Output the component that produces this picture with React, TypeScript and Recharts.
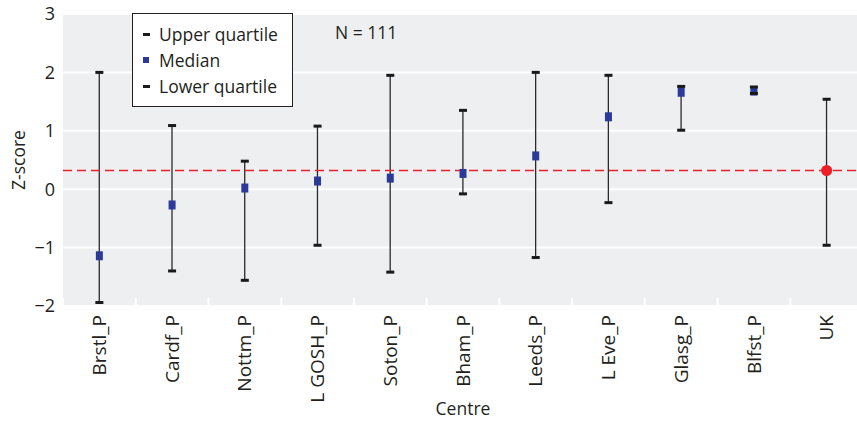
import {
  ComposedChart,
  Bar,
  Scatter,
  XAxis,
  YAxis,
  CartesianGrid,
  ReferenceLine,
  Label,
} from "recharts";

const centres = [
  "Brstl_P",
  "Cardf_P",
  "Nottm_P",
  "L GOSH_P",
  "Soton_P",
  "Bham_P",
  "Leeds_P",
  "L Eve_P",
  "Glasg_P",
  "Blfst_P",
  "UK",
];
const upperQ = [2.0, 1.09, 0.48, 1.08, 1.95, 1.35, 2.0, 1.95, 1.76, 1.75, 1.54];
const medians = [-1.14, -0.27, 0.02, 0.14, 0.19, 0.27, 0.57, 1.24, 1.66, 1.68, 0.32];
const lowerQ = [-1.94, -1.4, -1.56, -0.96, -1.42, -0.08, -1.17, -0.23, 1.01, 1.64, -0.96];
const ukMedian = 0.32;
const yTicks = [-2, -1, 0, 1, 2, 3];

const data = centres.map((name, i) => ({
  name,
  upper: upperQ[i],
  median: medians[i],
  lower: lowerQ[i],
}));

const FONT = "'Open Sans', sans-serif";
const TEXT = "#231f20";
const BLUE = "#2b3a98";
const RED = "#ee1f26";
const PANEL = "#eeeff1";

const CHART_W = 863;
const CHART_H = 421;
const Y_AXIS_W = 63;
const BAND = (CHART_W - Y_AXIS_W) / centres.length;

// whisker: thin vertical line between the quartiles
const Whisker = (props: any) => {
  const { x, y, width, height } = props;
  const cx = x + width / 2;
  return <line x1={cx} x2={cx} y1={y} y2={y + height} stroke="#2a2a2a" strokeWidth={1.3} />;
};

const Cap = (props: any) => {
  const { cx, cy } = props;
  return <rect x={cx - 4} y={cy - 1.5} width={8} height={3} fill="#1a1a1a" />;
};

const MedianMark = (props: any) => {
  const { cx, cy, payload } = props;
  if (payload.name === "UK") return <circle cx={cx} cy={cy} r={5.5} fill={RED} />;
  return <rect x={cx - 3.5} y={cy - 4.5} width={7} height={9} fill={BLUE} />;
};

const XTick = (props: any) => {
  const { x, y, payload } = props;
  return (
    <g transform={`translate(${x},${y})`}>
      <line x1={-BAND / 2} x2={-BAND / 2} y1={-8} y2={0} stroke="#fff" strokeWidth={2} />
      <text
        transform="rotate(-90)"
        x={-9}
        dy="0.35em"
        textAnchor="end"
        fill={TEXT}
        fontSize={19}
        fontFamily={FONT}
      >
        {payload.value}
      </text>
    </g>
  );
};

const fmtY = (v: number) => String(v).replace("-", "\u2212");

const legendRow = (marker: React.ReactNode, label: string, top: number) => (
  <div style={{ position: "absolute", left: 9, top, height: 22, display: "flex", alignItems: "center" }}>
    <div style={{ width: 17, display: "flex", alignItems: "center" }}>{marker}</div>
    <span>{label}</span>
  </div>
);

export default function App() {
  return (
    <div
      style={{
        position: "absolute",
        left: 0,
        top: 0,
        width: 857,
        height: CHART_H,
        overflow: "hidden",
        background: "#fff",
        fontFamily: FONT,
        color: TEXT,
      }}
    >
      <ComposedChart
        width={CHART_W}
        height={CHART_H}
        data={data}
        margin={{ top: 14, right: 0, bottom: 0, left: 0 }}
      >
        <CartesianGrid
          vertical={false}
          fill={PANEL}
          fillOpacity={1}
          stroke="#fff"
          strokeWidth={2}
        />
        <XAxis
          dataKey="name"
          type="category"
          interval={0}
          height={115}
          tickLine={false}
          axisLine={false}
          tickSize={0}
          tickMargin={0}
          tick={<XTick />}
        >
          <Label
            content={({ viewBox }: any) => (
              <text
                x={viewBox.x + viewBox.width / 2}
                y={415}
                textAnchor="middle"
                fill={TEXT}
                fontSize={17.5}
                fontFamily={FONT}
              >
                Centre
              </text>
            )}
          />
        </XAxis>
        <YAxis
          type="number"
          domain={[-2, 3]}
          ticks={yTicks}
          width={Y_AXIS_W}
          tickLine={false}
          axisLine={false}
          tickSize={0}
          tickMargin={8}
          tickFormatter={fmtY}
          tick={{ fill: TEXT, fontSize: 18, fontFamily: FONT }}
        >
          <Label
            content={({ viewBox }: any) => {
              const cy = viewBox.y + viewBox.height / 2;
              return (
                <text
                  x={19}
                  y={cy}
                  transform={`rotate(-90, 19, ${cy})`}
                  textAnchor="middle"
                  dy="0.35em"
                  fill={TEXT}
                  fontSize={17.5}
                  fontFamily={FONT}
                >
                  Z-score
                </text>
              );
            }}
          />
        </YAxis>
        <ReferenceLine y={ukMedian} stroke={RED} strokeWidth={1.5} strokeDasharray="9 5" />
        <Bar
          dataKey={(d: any) => [d.lower, d.upper]}
          shape={<Whisker />}
          isAnimationActive={false}
        />
        <Scatter dataKey="median" shape={<MedianMark />} isAnimationActive={false} />
        <Scatter dataKey="upper" shape={<Cap />} isAnimationActive={false} />
        <Scatter dataKey="lower" shape={<Cap />} isAnimationActive={false} />
      </ComposedChart>

      <div
        style={{
          position: "absolute",
          left: 132,
          top: 13,
          width: 159,
          height: 92,
          border: "1px solid #231f20",
          background: "#fff",
          fontSize: 17.5,
        }}
      >
        {legendRow(<div style={{ width: 7, height: 3, background: "#1a1a1a", marginLeft: 1 }} />, "Upper quartile", 9)}
        {legendRow(<div style={{ width: 6, height: 6, background: BLUE, marginLeft: 1 }} />, "Median", 35)}
        {legendRow(<div style={{ width: 7, height: 3, background: "#1a1a1a", marginLeft: 1 }} />, "Lower quartile", 61)}
      </div>
      <div style={{ position: "absolute", left: 335, top: 20, fontSize: 17.5 }}>N = 111</div>
    </div>
  );
}
